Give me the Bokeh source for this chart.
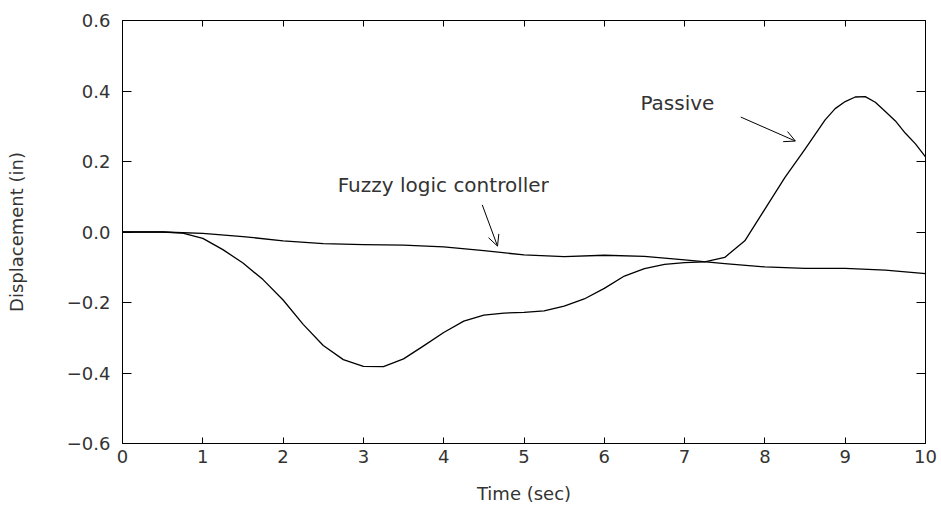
from bokeh.plotting import figure
from bokeh.models import LinearAxis, Arrow, OpenHead, Label, FixedTicker
from bokeh.embed import file_html
from bokeh.resources import INLINE

# ---- data ----
time_passive = [0.0, 0.25, 0.5, 0.75, 1.0, 1.25, 1.5, 1.75, 2.0, 2.25, 2.5, 2.75,
                3.0, 3.25, 3.5, 3.75, 4.0, 4.25, 4.5, 4.75, 5.0, 5.25, 5.5, 5.75,
                6.0, 6.25, 6.5, 6.75, 7.0, 7.25, 7.5, 7.75, 8.0, 8.25, 8.5, 8.75,
                8.875, 9.0, 9.125, 9.25, 9.375, 9.5, 9.625, 9.75, 9.875, 10.0]
passive = [0.0, 0.0, 0.0, -0.003, -0.018, -0.05, -0.088, -0.135, -0.193, -0.262,
           -0.322, -0.362, -0.381, -0.382, -0.36, -0.323, -0.285, -0.253, -0.236,
           -0.23, -0.228, -0.224, -0.21, -0.19, -0.16, -0.125, -0.104, -0.092,
           -0.087, -0.085, -0.072, -0.025, 0.065, 0.155, 0.235, 0.318, 0.35, 0.37,
           0.383, 0.384, 0.368, 0.342, 0.315, 0.28, 0.25, 0.213]

time_fuzzy = [0.0, 0.5, 1.0, 1.5, 2.0, 2.5, 3.0, 3.5, 4.0, 4.5, 5.0, 5.5, 6.0,
              6.5, 7.0, 7.5, 8.0, 8.5, 9.0, 9.5, 10.0]
fuzzy = [0.0, 0.0, -0.004, -0.013, -0.025, -0.033, -0.036, -0.037, -0.042, -0.053,
         -0.065, -0.07, -0.066, -0.069, -0.079, -0.09, -0.099, -0.103, -0.103, -0.108,
         -0.118]

x_ticks = [0, 1, 2, 3, 4, 5, 6, 7, 8, 9, 10]
y_ticks = [-0.6, -0.4, -0.2, 0.0, 0.2, 0.4, 0.6]
y_tick_labels = ["\u22120.6", "\u22120.4", "\u22120.2", "0.0", "0.2", "0.4", "0.6"]

passive_label = "Passive"
fuzzy_label = "Fuzzy logic controller"
passive_label_pos = (6.45, 0.366)
passive_arrow = (7.70, 0.326, 8.38, 0.258)
fuzzy_label_pos = (2.68, 0.133)
fuzzy_arrow = (4.48, 0.077, 4.67, -0.04)

FONT = "DejaVu Sans"
TXT = "#333333"

p = figure(width=941, height=511, x_range=(0, 10), y_range=(-0.6, 0.6),
           output_backend="svg", toolbar_location=None,
           min_border_left=122, min_border_right=16, min_border_top=20,
           min_border_bottom=68)
p.xgrid.visible = False
p.ygrid.visible = False
p.outline_line_color = "black"
p.outline_line_width = 1
p.background_fill_color = "white"
p.border_fill_color = "white"

p.line(time_passive, passive, line_color="black", line_width=1.3, line_join="round")
p.line(time_fuzzy, fuzzy, line_color="black", line_width=1.3, line_join="round")

# main axes
xa = p.xaxis[0]
xa.ticker = FixedTicker(ticks=x_ticks)
xa.major_tick_in = 6
xa.major_tick_out = 0
xa.minor_tick_line_color = None
xa.axis_line_color = "black"
xa.major_label_standoff = 6
xa.major_label_text_font = FONT
xa.major_label_text_font_size = "18px"
xa.major_label_text_color = TXT
xa.axis_label = "Time (sec)"
xa.axis_label_text_font = FONT
xa.axis_label_text_font_size = "18px"
xa.axis_label_text_font_style = "normal"
xa.axis_label_text_color = TXT
xa.axis_label_standoff = 17

ya = p.yaxis[0]
ya.ticker = FixedTicker(ticks=y_ticks)
ya.major_label_overrides = {t: l for t, l in zip(y_ticks, y_tick_labels)}
ya.major_tick_in = 9
ya.major_tick_out = 0
ya.minor_tick_line_color = None
ya.axis_line_color = "black"
ya.major_label_standoff = 12
ya.major_label_text_font = FONT
ya.major_label_text_font_size = "18px"
ya.major_label_text_color = TXT
ya.axis_label = "Displacement (in)"
ya.axis_label_text_font = FONT
ya.axis_label_text_font_size = "18px"
ya.axis_label_text_font_style = "normal"
ya.axis_label_text_color = TXT
ya.axis_label_standoff = 37

# mirrored axes (ticks only)
top = LinearAxis(ticker=FixedTicker(ticks=x_ticks), major_tick_in=6, major_tick_out=0,
                 minor_tick_line_color=None, major_label_text_font_size="0px",
                 major_label_standoff=0)
p.add_layout(top, "above")
right = LinearAxis(ticker=FixedTicker(ticks=y_ticks), major_tick_in=9, major_tick_out=0,
                   minor_tick_line_color=None, major_label_text_font_size="0px",
                   major_label_standoff=0)
p.add_layout(right, "right")

# annotations
p.add_layout(Label(x=passive_label_pos[0], y=passive_label_pos[1], text=passive_label,
                   text_font=FONT, text_font_size="20px", text_color=TXT,
                   text_baseline="middle"))
p.add_layout(Arrow(x_start=passive_arrow[0], y_start=passive_arrow[1],
                   x_end=passive_arrow[2], y_end=passive_arrow[3],
                   line_width=1, end=OpenHead(size=11, line_width=1)))
p.add_layout(Label(x=fuzzy_label_pos[0], y=fuzzy_label_pos[1], text=fuzzy_label,
                   text_font=FONT, text_font_size="20px", text_color=TXT,
                   text_baseline="middle"))
p.add_layout(Arrow(x_start=fuzzy_arrow[0], y_start=fuzzy_arrow[1],
                   x_end=fuzzy_arrow[2], y_end=fuzzy_arrow[3],
                   line_width=1, end=OpenHead(size=11, line_width=1)))

open("out.html", "w").write(file_html(p, INLINE))
